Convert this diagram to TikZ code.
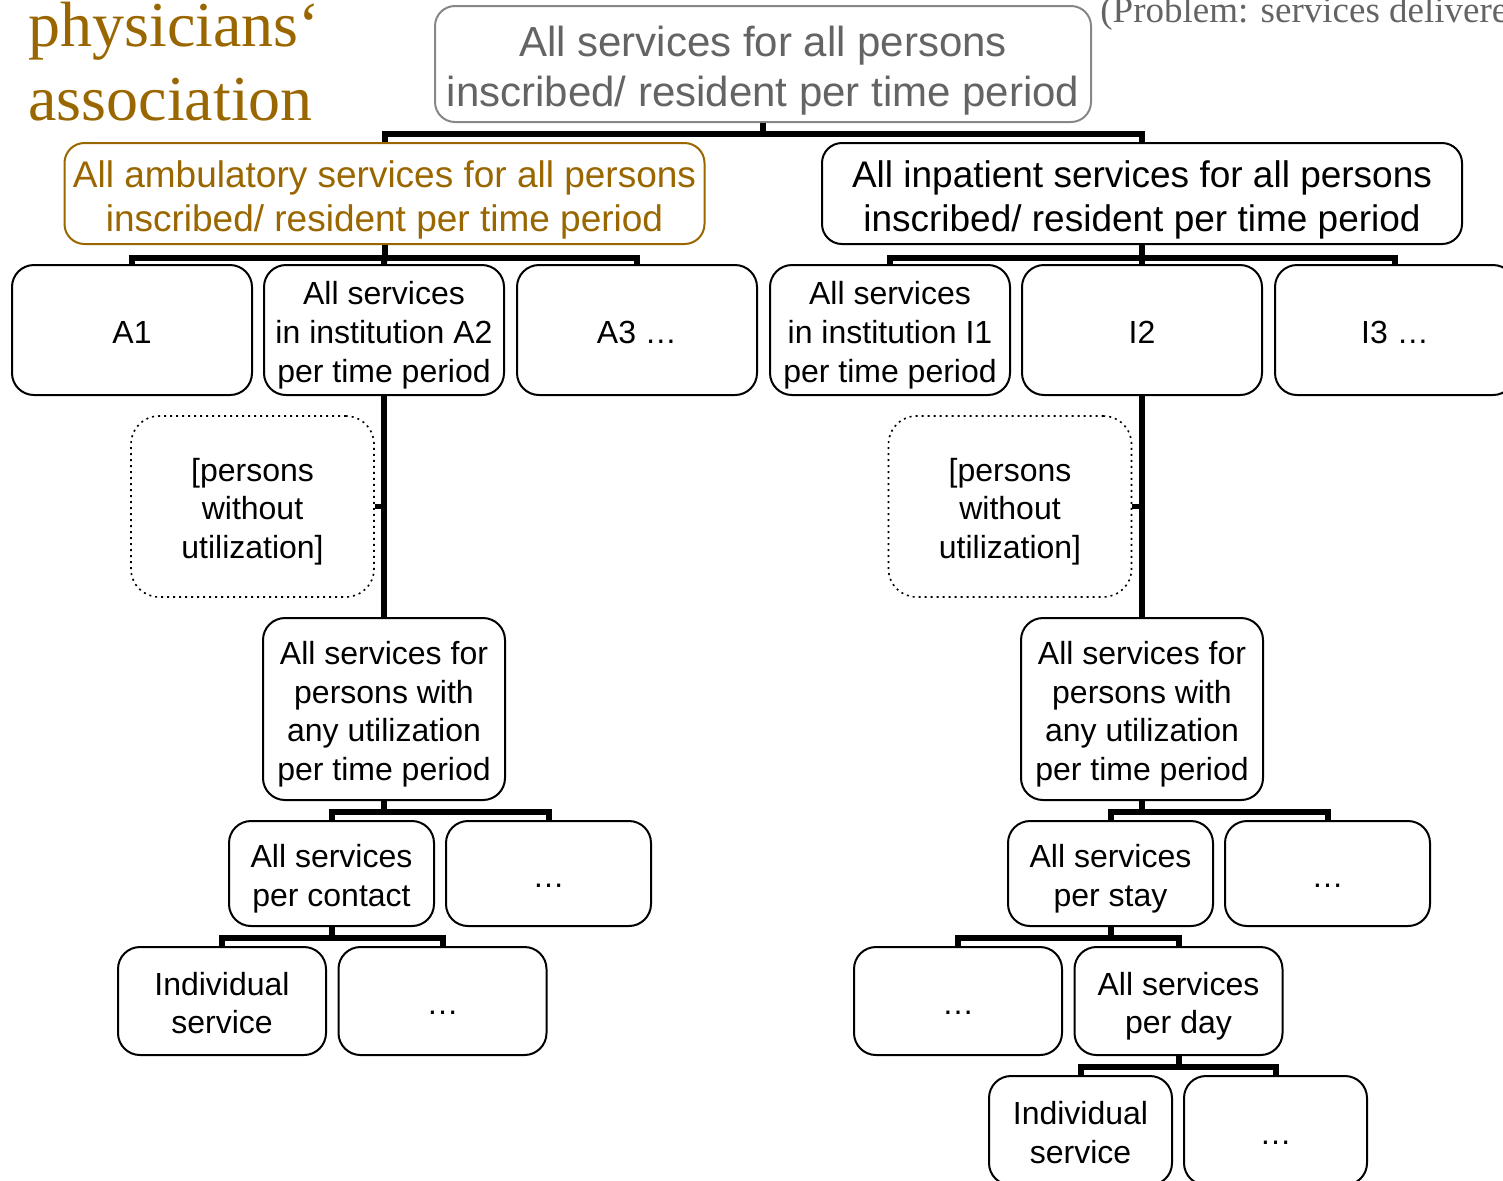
\documentclass[tikz,border=0pt]{standalone}
\usepackage{fontspec}
\setmainfont{Liberation Serif}
\setsansfont{Liberation Sans}
\definecolor{gold}{RGB}{153,102,0}
\definecolor{greytxt}{RGB}{100,100,100}
\definecolor{greyline}{RGB}{135,135,135}
% fixed ascent for the first line of a box
\newcommand{\firstline}{\rule{0pt}{1.05em}}

\begin{document}
\begin{tikzpicture}[x=0.5pt,y=-0.5pt,
  % every box gets a fixed descent below its last line
  box/.style={draw=black, line width=1pt, rounded corners=11pt, align=center,
    inner sep=0pt, font=\sffamily\fontsize{16}{19.3}\selectfont,
    execute at end node={\rule[-0.2em]{0pt}{0pt}}},
  bigbox/.style={box, rounded corners=10pt, minimum width=320pt, minimum height=50.5pt,
    font=\sffamily\fontsize{18.5}{22}\selectfont},
  lvlbox/.style={box, minimum width=120pt, minimum height=65pt},
  nobox/.style={box, draw=black, dotted, line width=0.8pt, rounded corners=14pt,
    minimum width=121.5pt, minimum height=90.5pt},
  usebox/.style={box, minimum width=121pt, minimum height=91pt},
  midbox/.style={box, minimum width=102.5pt, minimum height=52.5pt},
  lowbox/.style={box, minimum width=104pt, minimum height=54pt},
  conn/.style={line width=3pt, line join=miter},
  tick/.style={line width=2.5pt},
  title/.style={anchor=base west, inner sep=0pt, text=gold, font=\fontsize{32}{38}\selectfont}]

\useasboundingbox (0,0) rectangle (1503,1180);

% heading and remark
\node[title] (t1) at (28,46) {physicians‘};
\node[title] (t2) at (28,120) {association};
\node[anchor=base west, inner sep=0pt, text=greytxt, font=\fontsize{18.5}{22}\selectfont]
  (prob) at (1100,22) {(Problem: services delivere};

% root
\node[box, draw=greyline, text=greytxt, rounded corners=10pt, minimum width=328pt,
  minimum height=58pt, font=\sffamily\fontsize{21}{25}\selectfont]
  (top) at (763,64) {\firstline All services for all persons\\inscribed/ resident per time period};

% sectors
\node[bigbox, draw=gold, text=gold] (amb) at (384.5,193.5)
  {\firstline All ambulatory services for all persons\\inscribed/ resident per time period};
\node[bigbox] (inp) at (1142,193.5)
  {\firstline All inpatient services for all persons\\inscribed/ resident per time period};

% institutions
\node[lvlbox] (a1) at (132,330) {\firstline A1};
\node[lvlbox] (a2) at (384,330) {\firstline All services\\in institution A2\\per time period};
\node[lvlbox] (a3) at (637,330) {\firstline A3 …};
\node[lvlbox] (i1) at (890,330) {\firstline All services\\in institution I1\\per time period};
\node[lvlbox] (i2) at (1142,330) {\firstline I2};
\node[lvlbox] (i3) at (1395,330) {\firstline I3 …};

% persons without utilization
\node[nobox] (nwa) at (252.5,506.5) {\firstline [persons\\without\\utilization]};
\node[nobox] (nwi) at (1010,506.5) {\firstline [persons\\without\\utilization]};

% persons with utilization
\node[usebox] (uta) at (384,709) {\firstline All services for\\persons with\\any utilization\\per time period};
\node[usebox] (uti) at (1142,709) {\firstline All services for\\persons with\\any utilization\\per time period};

% ambulatory branch
\node[midbox] (contact) at (331.5,873.5) {\firstline All services\\per contact};
\node[midbox] (da1) at (548.5,873.5) {\firstline …};
\node[lowbox] (inda) at (222,1001) {\firstline Individual\\service};
\node[lowbox] (da2) at (442.5,1001) {\firstline …};

% inpatient branch
\node[midbox] (stay) at (1110.5,873.5) {\firstline All services\\per stay};
\node[midbox] (di1) at (1327.5,873.5) {\firstline …};
\node[lowbox] (di2) at (958,1001) {\firstline …};
\node[lowbox] (day) at (1178.5,1001) {\firstline All services\\per day};
\node[box, minimum width=91.5pt, minimum height=54.5pt] (indi) at (1080.5,1130.5) {\firstline Individual\\service};
\node[box, minimum width=91.5pt, minimum height=54.5pt] (di3) at (1275.5,1130.5) {\firstline …};

% connectors
\draw[conn] (top.south) -- ++(0,11) coordinate (b0);
\draw[conn] (amb.north) |- (b0) -| (inp.north);

\draw[conn] (amb.south) -- ++(0,13) coordinate (b1);
\draw[conn] (a1.north) |- (b1) -| (a3.north);
\draw[conn] (b1) -- (a2.north);

\draw[conn] (inp.south) -- ++(0,13) coordinate (b2);
\draw[conn] (i1.north) |- (b2) -| (i3.north);
\draw[conn] (b2) -- (i2.north);

\draw[conn] (a2.south) -- (uta.north);
\draw[tick] (nwa.east) -- (nwa.east -| a2.south);
\draw[conn] (i2.south) -- (uti.north);
\draw[tick] (nwi.east) -- (nwi.east -| i2.south);

\draw[conn] (uta.south) -- ++(0,11) coordinate (b3);
\draw[conn] (contact.north) |- (b3) -| (da1.north);
\draw[conn] (contact.south) -- ++(0,11) coordinate (b4);
\draw[conn] (inda.north) |- (b4) -| (da2.north);

\draw[conn] (uti.south) -- ++(0,11) coordinate (b5);
\draw[conn] (stay.north) |- (b5) -| (di1.north);
\draw[conn] (stay.south) -- ++(0,11) coordinate (b6);
\draw[conn] (di2.north) |- (b6) -| (day.north);
\draw[conn] (day.south) -- ++(0,11) coordinate (b7);
\draw[conn] (indi.north) |- (b7) -| (di3.north);
\end{tikzpicture}
\end{document}
